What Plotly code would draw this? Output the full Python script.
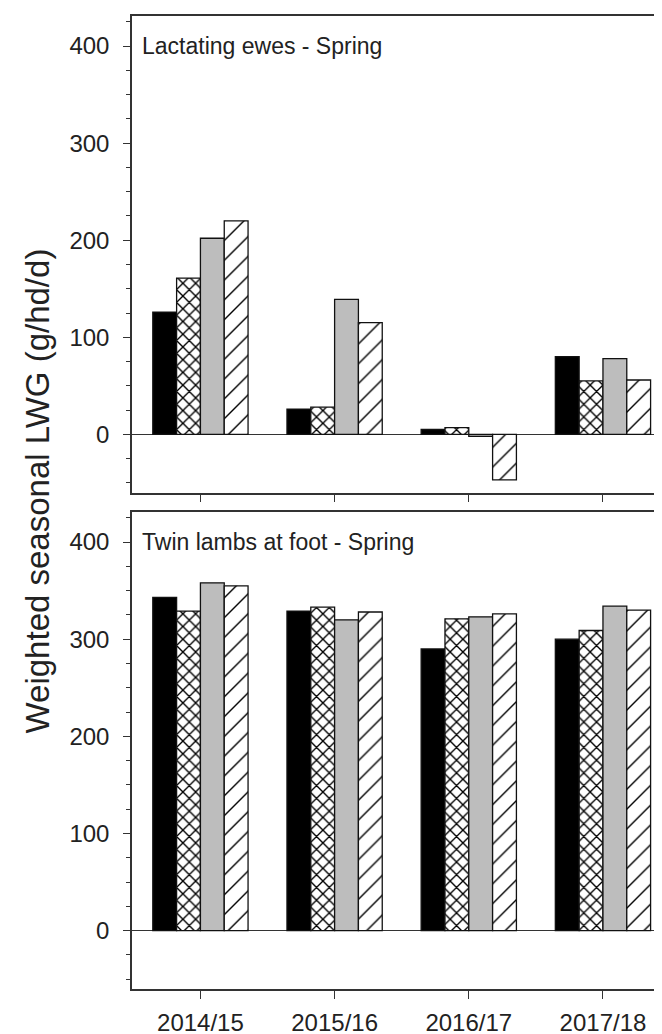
import plotly.graph_objects as go

years = ["2014/15", "2015/16", "2016/17", "2017/18"]

ewes_black = [126, 26, 5, 80]
ewes_cross = [161, 28, 7, 55]
ewes_gray = [202, 139, -2, 78]
ewes_hatch = [220, 115, -47, 56]

lambs_black = [343, 329, 290, 300]
lambs_cross = [329, 333, 321, 309]
lambs_gray = [358, 320, 323, 334]
lambs_hatch = [355, 328, 326, 330]

panel_titles = ["Lactating ewes - Spring", "Twin lambs at foot - Spring"]
y_title = "Weighted seasonal LWG (g/hd/d)"

FONT = "Liberation Sans, Arial, sans-serif"
LINE = dict(color="#111111", width=1.3)

styles = [
    dict(color="#000000"),
    dict(color="#ffffff", pattern=dict(shape="x", fgcolor="#000000", bgcolor="#ffffff", size=9, solidity=0.28, fillmode="replace")),
    dict(color="#bdbdbd"),
    dict(color="#ffffff", pattern=dict(shape="/", fgcolor="#000000", bgcolor="#ffffff", size=14, solidity=0.1, fillmode="replace")),
]

fig = go.Figure()
panels = [
    ("x", "y", [ewes_black, ewes_cross, ewes_gray, ewes_hatch]),
    ("x2", "y2", [lambs_black, lambs_cross, lambs_gray, lambs_hatch]),
]
for xa, ya, series in panels:
    for i, vals in enumerate(series):
        m = dict(styles[i])
        m["line"] = LINE
        fig.add_trace(go.Bar(x=years, y=vals, xaxis=xa, yaxis=ya, marker=m,
                             showlegend=False, name="Series %d" % (i + 1)))

xcommon = dict(type="category", range=[-0.51, 3.44], showline=True, mirror=True,
               linecolor="#333333", linewidth=1.5, ticks="outside", ticklen=8,
               tickcolor="#333333", tickwidth=1.3, showgrid=False, zeroline=False,
               tickfont=dict(family=FONT, size=24, color="#222222"))
ycommon = dict(range=[-60, 431], showline=True, mirror=True, linecolor="#333333",
               linewidth=1.5, ticks="outside", ticklen=7, tickcolor="#333333",
               tickwidth=1.3, showgrid=False, zeroline=True, zerolinecolor="#333333",
               zerolinewidth=1.3, tickvals=[0, 100, 200, 300, 400],
               tickfont=dict(family=FONT, size=24, color="#222222"),
               ticklabelstandoff=9,
               minor=dict(tickvals=[v for v in range(-50, 430, 25) if v % 100 != 0],
                          ticks="outside", ticklen=4, tickcolor="#333333", tickwidth=1.2))

fig.update_layout(
    width=662, height=1034,
    margin=dict(l=124, r=6, t=6, b=48),
    paper_bgcolor="white", plot_bgcolor="white",
    barmode="group", bargap=0.29, bargroupgap=0,
    xaxis=dict(xcommon, domain=[0, 1], anchor="y", showticklabels=False),
    yaxis=dict(ycommon, domain=[0.5102, 1], anchor="x"),
    xaxis2=dict(xcommon, domain=[0, 1], anchor="y2", ticklabelstandoff=3),
    yaxis2=dict(ycommon, domain=[0, 0.4903], anchor="x2"),
    annotations=[
        dict(text=panel_titles[0], xref="x domain", yref="y", x=0.016, y=400,
             xanchor="left", yanchor="middle", showarrow=False,
             font=dict(family=FONT, size=23, color="#222222")),
        dict(text=panel_titles[1], xref="x2 domain", yref="y2", x=0.016, y=400,
             xanchor="left", yanchor="middle", showarrow=False,
             font=dict(family=FONT, size=23, color="#222222")),
        dict(text=y_title, xref="paper", yref="paper", x=-0.178, y=0.512,
             xanchor="center", yanchor="middle", textangle=-90, showarrow=False,
             font=dict(family=FONT, size=33, color="#222222")),
    ],
)

fig.write_html("out.html")
